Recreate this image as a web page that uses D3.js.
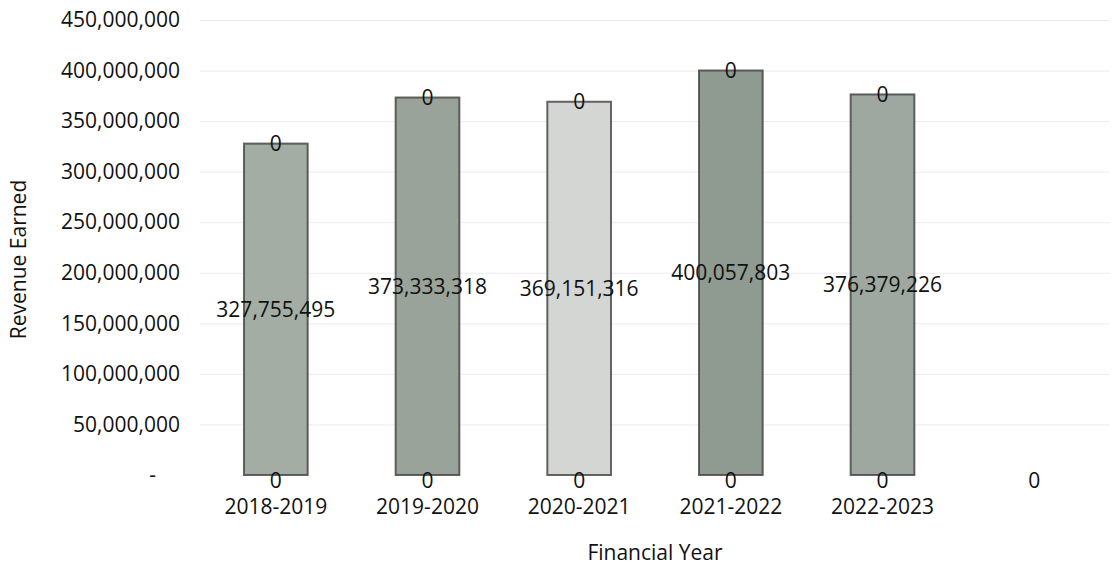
<!DOCTYPE html>
<html>
<head>
<meta charset="utf-8">
<script src="https://cdn.jsdelivr.net/npm/d3@7"></script>
<style>
  html, body { margin: 0; padding: 0; background: #fff; }
  svg text { font-family: "Open Sans", sans-serif; fill: #111; }
</style>
</head>
<body>
<div id="chart"></div>
<script>
/* revenue bar chart (scanned Excel style) */

const YEARS   = ["2018-2019", "2019-2020", "2020-2021", "2021-2022", "2022-2023", ""];
const REVENUE = [327755495, 373333318, 369151316, 400057803, 376379226, 0];
const BOTTOM_ZERO = [0, 0, 0, 0, 0, 0];   // empty stacked series at the base
const TOP_ZERO    = [0, 0, 0, 0, 0, 0];   // empty stacked series on top
const Y_TICKS = [0, 50e6, 100e6, 150e6, 200e6, 250e6, 300e6, 350e6, 400e6, 450e6];
const BAR_FILL = ["#a3ada4", "#99a39a", "#d4d6d3", "#8f9a91", "#9ea8a0", "#ffffff"];

const W = 1118, H = 570;
const M = {top: 20, right: 8, bottom: 95, left: 200};
const IW = W - M.left - M.right, IH = H - M.top - M.bottom;

const svg = d3.select("#chart").append("svg")
  .attr("width", W).attr("height", H);

const g = svg.append("g").attr("transform", `translate(${M.left},${M.top})`);

const x = d3.scaleBand().domain(d3.range(YEARS.length))
  .range([0, IW]).paddingInner(0.58).paddingOuter(0.29);
const y = d3.scaleLinear().domain([0, 450e6]).range([IH, 0]);

const fmt = d3.format(",");

// faint gridlines
g.append("g")
  .call(d3.axisLeft(y).tickValues(Y_TICKS.slice(1)).tickSize(-IW).tickFormat(""))
  .call(a => a.select(".domain").remove())
  .selectAll("line").attr("stroke", "#ececec").attr("stroke-width", 1);

// y axis labels
const yAx = g.append("g")
  .call(d3.axisLeft(y).tickValues(Y_TICKS).tickSize(0).tickPadding(20)
    .tickFormat(d => d === 0 ? "-" : fmt(d)));
yAx.select(".domain").remove();
yAx.selectAll("text").attr("font-size", 21).attr("fill", "#111");
yAx.selectAll("text").filter(d => d === 0).attr("dx", -24);

// bars
g.selectAll("rect.bar")
  .data(REVENUE.map((v, i) => ({v, i})).filter(d => d.v > 0))
  .join("rect").attr("class", "bar")
  .attr("x", d => x(d.i)).attr("width", x.bandwidth())
  .attr("y", d => y(d.v)).attr("height", d => y(0) - y(d.v))
  .attr("fill", d => BAR_FILL[d.i])
  .attr("stroke", "#3e403e").attr("stroke-opacity", 0.8).attr("stroke-width", 2);

// value labels in the middle of the bars
g.selectAll("text.val")
  .data(REVENUE.map((v, i) => ({v, i})).filter(d => d.v > 0))
  .join("text").attr("class", "val")
  .attr("x", d => x(d.i) + x.bandwidth() / 2)
  .attr("y", d => (y(d.v) + y(0)) / 2)
  .attr("dy", "0.35em").attr("text-anchor", "middle").attr("font-size", 21)
  .text(d => fmt(d.v));

// zero labels of the empty top series
g.selectAll("text.top")
  .data(TOP_ZERO.map((v, i) => ({v, i, base: REVENUE[i]})).filter(d => d.base > 0))
  .join("text").attr("class", "top")
  .attr("x", d => x(d.i) + x.bandwidth() / 2)
  .attr("y", d => y(d.base + d.v))
  .attr("dy", "0.35em").attr("text-anchor", "middle").attr("font-size", 21)
  .text(d => fmt(d.v));

// zero labels of the empty bottom series
g.selectAll("text.bot")
  .data(BOTTOM_ZERO.map((v, i) => ({v, i})))
  .join("text").attr("class", "bot")
  .attr("x", d => x(d.i) + x.bandwidth() / 2)
  .attr("y", d => y(d.v) + 6)
  .attr("dy", "0.35em").attr("text-anchor", "middle").attr("font-size", 21)
  .text(d => fmt(d.v));

// category labels
g.append("g").attr("transform", `translate(0,${IH})`)
  .call(d3.axisBottom(x).tickSize(0).tickPadding(24).tickFormat(i => YEARS[i]))
  .call(a => a.select(".domain").remove())
  .selectAll("text").attr("font-size", 21).attr("fill", "#111");

// axis titles
svg.append("text")
  .attr("transform", `translate(19,${M.top + IH / 2 + 12}) rotate(-90)`)
  .attr("text-anchor", "middle").attr("dy", "0.35em").attr("font-size", 21)
  .text("Revenue Earned");

svg.append("text")
  .attr("x", M.left + IW / 2).attr("y", 553)
  .attr("text-anchor", "middle").attr("dy", "0.35em").attr("font-size", 21)
  .text("Financial Year");
</script>
</body>
</html>
